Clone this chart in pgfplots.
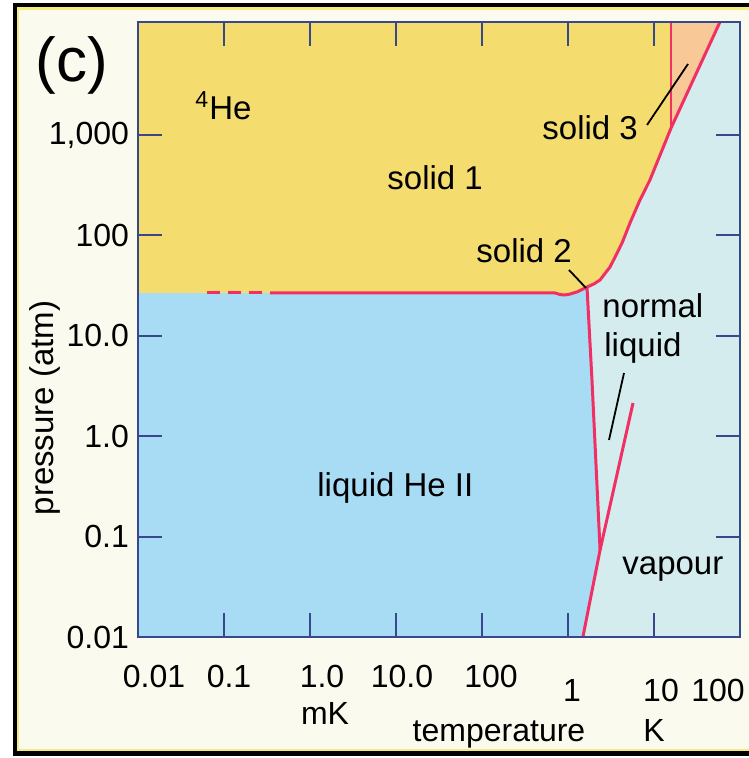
\documentclass[border=0pt]{standalone}
\usepackage{pgfplots}
\pgfplotsset{compat=1.18}
\usepackage{fontspec}
\setmainfont{Liberation Sans}
\definecolor{solidy}{HTML}{F4DC6E}
\definecolor{heblue}{HTML}{A8DCF4}
\definecolor{paleC}{HTML}{D4ECEE}
\definecolor{solido}{HTML}{F8C896}
\definecolor{redl}{HTML}{F03064}
\definecolor{navy}{HTML}{38488C}
\definecolor{cream}{HTML}{FAFAEE}
\definecolor{framey}{HTML}{F4EC80}
\begin{document}
\begin{tikzpicture}[x=1pt,y=1pt,font=\fontsize{16.5}{19.8}\selectfont]
\path[use as bounding box] (0,0) rectangle (374,379);
\fill[white] (0,0) rectangle (374,379);
\fill[black] (6.3,1) rectangle (380,377.3);
\fill[framey] (8.3,3.5) rectangle (380,375.3);
\fill[cream] (9.7,4.5) rectangle (380,374);
\begin{axis}[
  at={(69pt,60.5pt)}, anchor=south west,
  scale only axis, width=301pt, height=307.5pt,
  xmode=log, ymode=log,
  xmin=1e-5, xmax=100, ymin=0.01, ymax=13335,
  xminorticks=false, yminorticks=false,
  xtick={1e-4,1e-3,1e-2,1e-1,1,10}, xticklabels={},
  ytick={0.01,0.1,1,10,100,1000},
  yticklabels={0.01,0.1,1.0,10.0,100,{1,000}},
  yticklabel style={font=\fontsize{16}{19}\selectfont, xshift=-1pt},
  axis background/.style={fill=paleC},
  axis line style={navy, line width=1pt},
  every tick/.style={navy, line width=1pt},
  major tick length=12pt,
  tick align=inside,
  axis on top,
]
% liquid He II region
\addplot[fill=heblue, draw=none] coordinates {
  (1e-5,0.01) (1e-5,26.7) (0.706,26.7) (0.80,25.8) (0.875,25.5) (1.0,25.7) (1.27,27.3) (1.663,30.6)
  (1.90,3.63) (2.36,0.0736) (1.49,0.01)} --cycle;
% solid region
\addplot[fill=solidy, draw=none] coordinates {
  (1e-5,26.7) (0.706,26.7) (0.80,25.8) (0.875,25.5) (1.0,25.7) (1.27,27.3) (1.663,30.6)
  (2.0,32.8) (2.36,36.0) (3.08,48.4) (3.6,63) (4.25,83.9) (5.26,133) (6.87,225) (8.98,357)
  (15.8,1175) (15.8,13335) (1e-5,13335)} --cycle;
% solid 3 region
\addplot[fill=solido, draw=none] coordinates {
  (15.8,1175) (58.5,13335) (15.8,13335)} --cycle;
% melting curve (dashed part)
\addplot[redl, line width=1.5pt, dash pattern=on 6.5pt off 4pt] coordinates {
  (6.34e-5,26.7) (2.77e-4,26.7)};
% melting curve
\addplot[redl, line width=1.5pt, line join=round] coordinates {
  (3.43e-4,26.7) (0.706,26.7) (0.80,25.8) (0.875,25.5) (1.0,25.7) (1.27,27.3) (1.663,30.6)
  (2.0,32.8) (2.36,36.0) (3.08,48.4) (3.6,63) (4.25,83.9) (5.26,133) (6.87,225) (8.98,357)
  (15.8,1175) (58.5,13335)};
% solid 3 boundary
\addplot[redl, line width=1pt] coordinates {(15.8,1175) (15.8,13335)};
% lambda line
\addplot[redl, line width=1.5pt, line join=round] coordinates {
  (1.663,30.6) (1.90,3.63) (2.36,0.0736)};
% vapour pressure curve
\addplot[redl, line width=1.5pt, line join=round] coordinates {
  (1.49,0.01) (2.36,0.0736) (5.70,2.14)};
\end{axis}
% labels
\node[anchor=base west, inner sep=0, font=\fontsize{31}{36}\selectfont] at (17.5,338) {(c)};
\begin{scope}[every node/.style={anchor=base, inner sep=0, font=\fontsize{16}{19}\selectfont}]
\node at (77,35) {0.01};
\node at (114.5,35) {0.1};
\node at (161,35) {1.0};
\node at (201,35) {10.0};
\node at (245.5,35) {100};
\node at (286,28) {1};
\node at (330.5,28) {10};
\node at (359,28) {100};
\node at (162.5,16.5) {mK};
\node at (249.5,8.5) {temperature};
\node at (327,8.5) {K};
\end{scope}
\node[rotate=90, inner sep=0] at (22.5,175) {pressure (atm)};
\begin{scope}[every node/.style={anchor=base west, inner sep=0}]
\node at (97.5,319) {\textsuperscript{4}He};
\node at (193.5,284) {solid 1};
\node at (271,309) {solid 3};
\node at (238,247.5) {solid 2};
\node at (301,220) {normal};
\node at (302,200.5) {liquid};
\node at (158.5,130.5) {liquid He II};
\node at (311,91.5) {vapour};
\end{scope}
\draw[black, line width=0.9pt] (323.5,316.5) -- (344,347);
\draw[black, line width=0.9pt] (284.5,244) -- (293,235);
\draw[black, line width=0.9pt] (312,192.5) -- (304.5,159);
\end{tikzpicture}
\end{document}
